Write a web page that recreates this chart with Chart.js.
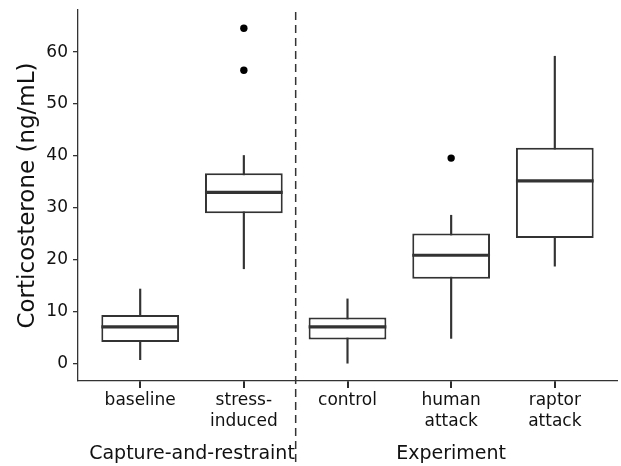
<!DOCTYPE html>
<html lang="en">
<head>
    <meta charset="UTF-8">
    <title>Corticosterone box plot</title>
    <script src="https://cdn.jsdelivr.net/npm/chart.js"></script>
    <style>
        body {
            margin: 0;
            padding: 0;
            background: #fff;
        }
        .wrap {
            width: 621px;
            height: 466px;
        }
    </style>
</head>
<body>
    <div class="wrap">
        <canvas id="boxChart" width="621" height="466"></canvas>
    </div>

    <script>
        // data
        const categories = [['baseline'], ['stress-', 'induced'], ['control'], ['human', 'attack'], ['raptor', 'attack']];
        const groups = ['Capture-and-restraint', 'Experiment'];
        const groupFirst = [1, 3];
        const groupLast = [2, 5];

        const whiskerLow  = [0.8, 18.3, 0.0, 4.9, 18.8];
        const q1          = [4.2, 29.0, 4.7, 16.4, 24.2];
        const median      = [7.1, 33.0, 7.1, 20.9, 35.2];
        const q3          = [9.4, 36.7, 8.9, 25.1, 41.6];
        const whiskerHigh = [14.4, 40.1, 12.5, 28.6, 59.2];

        const outlierCat   = [2, 2, 4];
        const outlierValue = [64.6, 56.5, 39.6];

        const yTicks = [0, 10, 20, 30, 40, 50, 60];

        const ink = '#333333';
        const textInk = '#111111';
        const boxWidth = 0.75;
        const font = 'DejaVu Sans';

        const catX = categories.map((c, i) => i + 1);

        const whiskerData = catX.map((x, i) => ({ x: x, y: [whiskerLow[i], whiskerHigh[i]] }));
        const boxData = catX.map((x, i) => ({ x: x, y: [q1[i], q3[i]] }));
        const medianSets = catX.map((x, i) => ({
            type: 'line',
            data: [{ x: x - boxWidth / 2, y: median[i] }, { x: x + boxWidth / 2, y: median[i] }],
            borderColor: ink,
            borderWidth: 3.2,
            borderCapStyle: 'butt',
            pointRadius: 0,
            order: 2
        }));
        const outlierData = outlierCat.map((c, i) => ({ x: c, y: outlierValue[i] }));

        // dashed separator between the two groups, runs down through the labels
        const separator = {
            id: 'separator',
            afterDraw(chart) {
                const ctx = chart.ctx;
                const xs = chart.scales.x;
                const px = xs.getPixelForValue((groupLast[0] + groupFirst[1]) / 2);
                ctx.save();
                ctx.strokeStyle = ink;
                ctx.lineWidth = 1.5;
                ctx.setLineDash([8, 5]);
                ctx.beginPath();
                ctx.moveTo(px, chart.chartArea.top + 2);
                ctx.lineTo(px, chart.height);
                ctx.stroke();
                ctx.restore();
            }
        };

        const noPad = (scale) => {
            scale.paddingTop = 0;
            scale.paddingBottom = 0;
            scale.paddingLeft = 0;
            scale.paddingRight = 0;
        };

        new Chart(document.getElementById('boxChart'), {
            type: 'bar',
            data: {
                datasets: [
                    {
                        data: whiskerData,
                        backgroundColor: ink,
                        borderWidth: 0,
                        barThickness: 1.5,
                        grouped: false,
                        order: 4
                    },
                    {
                        data: boxData,
                        backgroundColor: '#ffffff',
                        borderColor: ink,
                        borderWidth: 2,
                        borderSkipped: false,
                        categoryPercentage: boxWidth,
                        barPercentage: 1,
                        grouped: false,
                        order: 3
                    },
                    ...medianSets,
                    {
                        type: 'scatter',
                        data: outlierData,
                        backgroundColor: '#000',
                        borderColor: '#000',
                        pointRadius: 3.7,
                        borderWidth: 0,
                        order: 1
                    }
                ]
            },
            options: {
                responsive: false,
                animation: false,
                events: [],
                layout: { padding: { top: 10, right: 1, bottom: 0, left: 0 } },
                plugins: {
                    legend: { display: false },
                    tooltip: { enabled: false }
                },
                scales: {
                    x: {
                        type: 'linear',
                        position: 'bottom',
                        offset: false,
                        min: 0.4,
                        max: 5.6,
                        afterBuildTicks: (scale) => { scale.ticks = catX.map(v => ({ value: v })); },
                        afterFit: (scale) => { scale.height = 51; noPad(scale); },
                        ticks: {
                            autoSkip: false,
                            maxRotation: 0,
                            padding: 2,
                            color: textInk,
                            font: { family: font, size: 17, lineHeight: 21 / 17 },
                            callback: (v, i) => categories[i]
                        },
                        grid: {
                            offset: false,
                            drawOnChartArea: false,
                            drawTicks: true,
                            tickLength: 7,
                            color: ink,
                            lineWidth: 2,
                            tickColor: '#2b2b2b',
                            tickWidth: 2
                        },
                        border: { display: true, color: ink, width: 1.3 }
                    },
                    x2: {
                        type: 'linear',
                        position: 'bottom',
                        offset: false,
                        min: 0.4,
                        max: 5.6,
                        afterBuildTicks: (scale) => {
                            scale.ticks = groups.map((g, i) => ({ value: (groupFirst[i] + groupLast[i]) / 2 }));
                        },
                        afterFit: (scale) => { scale.height = 34; noPad(scale); },
                        ticks: {
                            autoSkip: false,
                            maxRotation: 0,
                            padding: 3,
                            color: textInk,
                            font: { family: font, size: 19, lineHeight: 1.2 },
                            callback: (v, i) => groups[i]
                        },
                        grid: { display: false, offset: false },
                        border: { display: false }
                    },
                    y: {
                        min: -3.3,
                        max: 68.1,
                        afterBuildTicks: (scale) => { scale.ticks = yTicks.map(v => ({ value: v })); },
                        afterFit: (scale) => { scale.width = 78; noPad(scale); },
                        ticks: {
                            padding: 5,
                            color: textInk,
                            font: { family: font, size: 17 }
                        },
                        grid: { drawOnChartArea: false, drawTicks: true, tickLength: 5, color: ink, lineWidth: 1.3 },
                        border: { display: true, color: ink, width: 1.3 },
                        title: {
                            display: true,
                            text: 'Corticosterone (ng/mL)',
                            color: textInk,
                            font: { family: font, size: 23, lineHeight: 1.2 },
                            padding: { top: 14, bottom: 0 }
                        }
                    }
                }
            },
            plugins: [separator]
        });
    </script>
</body>
</html>
